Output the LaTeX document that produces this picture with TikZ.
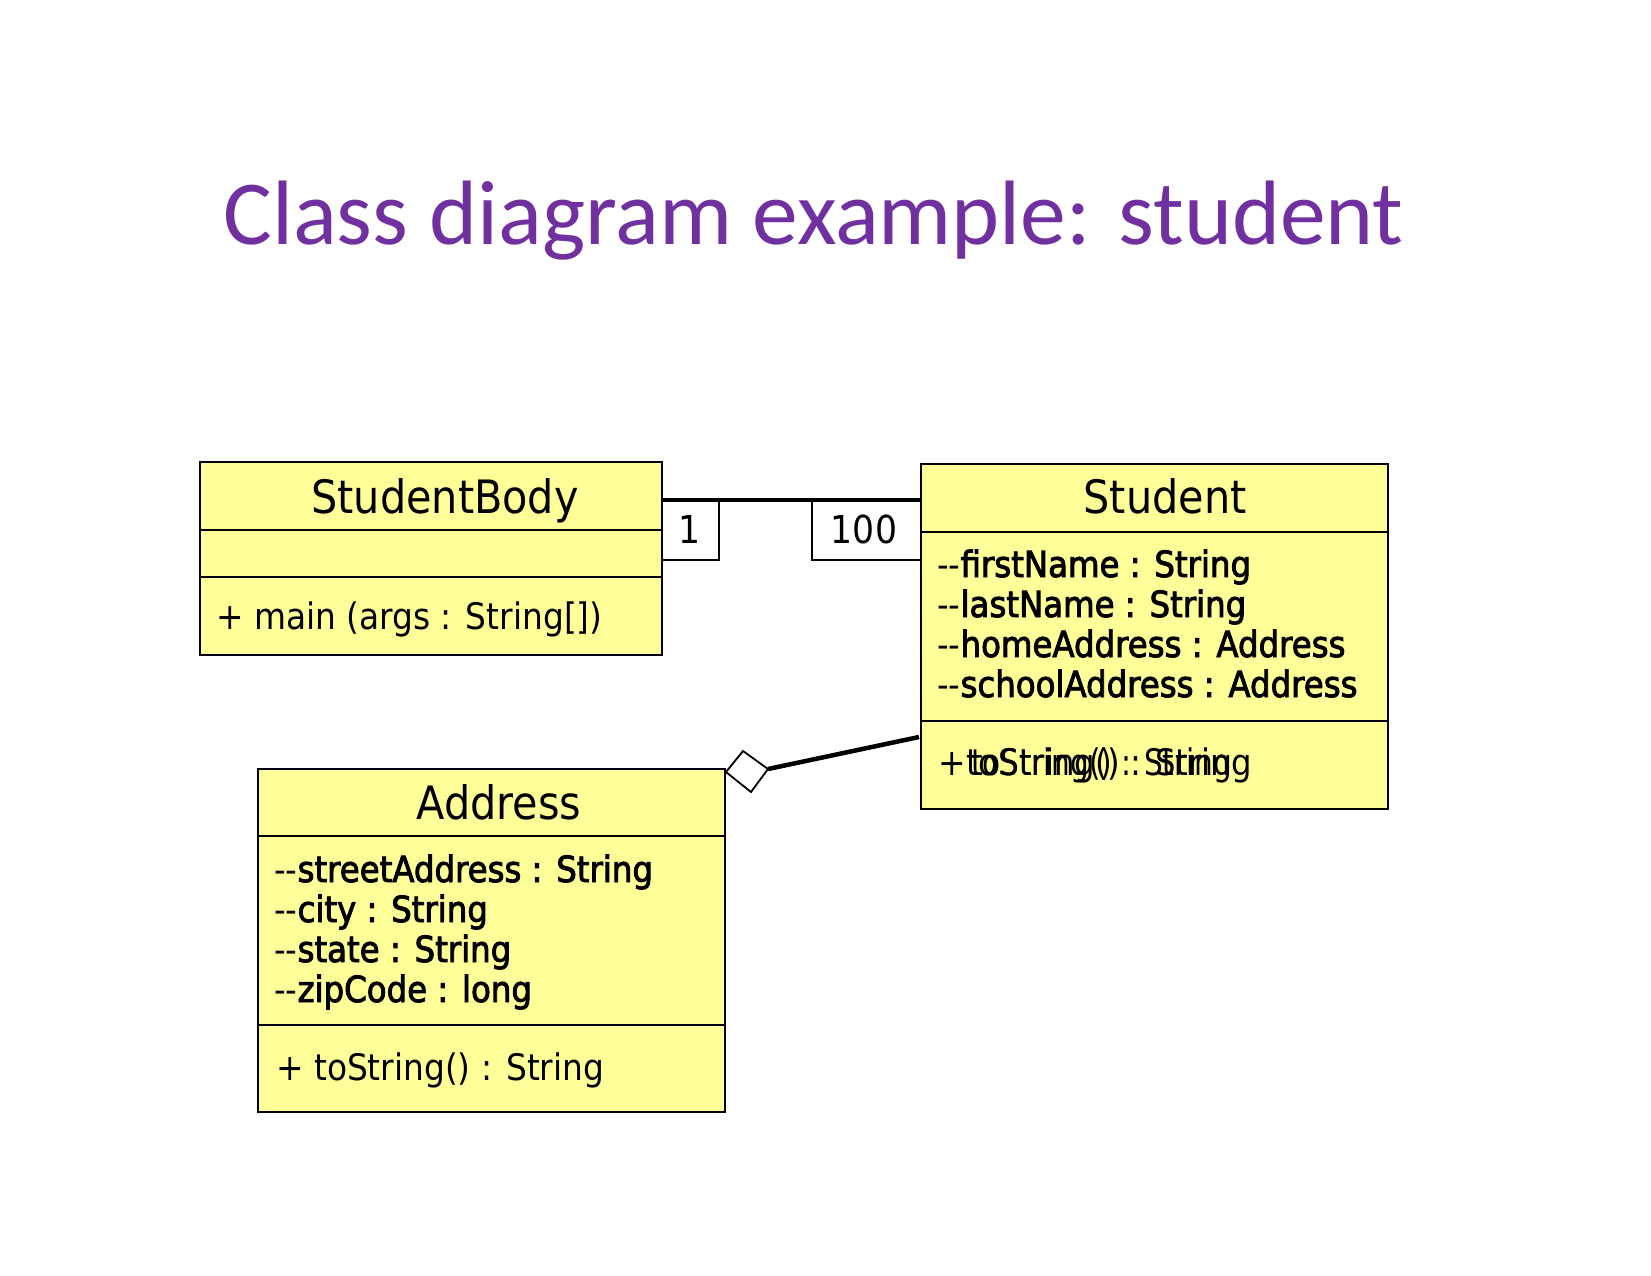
\documentclass[tikz,border=0pt]{standalone}
\usepackage{fontspec}
\setmainfont{DejaVu Sans}
\newfontfamily\umlfont[FakeStretch=0.9]{DejaVu Sans}
\newfontfamily\attrfont[FakeStretch=0.9,FakeBold=2.5]{DejaVu Sans}
\newfontfamily\titlefont{Carlito}
\definecolor{titlepurple}{RGB}{112,48,160}
\definecolor{umlyellow}{RGB}{255,255,153}
\newcommand{\hy}{{\umlfont -{}-}}
\begin{document}
\begin{tikzpicture}[x=1pt,y=-1pt,
  classbox/.style={draw=black, fill=umlyellow, line width=1.8pt, inner sep=0pt, outer sep=0pt, anchor=north west},
  hdr/.style={font=\umlfont\fontsize{46}{50}\selectfont, inner sep=0pt, anchor=base},
  attr/.style={font=\attrfont\fontsize{36}{40}\selectfont, inner sep=0pt, anchor=base west},
  meth/.style={font=\umlfont\fontsize{36.5}{40}\selectfont, inner sep=0pt, anchor=base west},
  divider/.style={line width=1.8pt},
  mult/.style={draw=black, fill=white, line width=1.6pt, inner sep=0pt, outer sep=0pt, anchor=north west},
  multtext/.style={font=\umlfont\fontsize{38.5}{40}\selectfont, inner sep=0pt, anchor=base},
  assoc/.style={line width=4.5pt},
  titletext/.style={font=\titlefont\fontsize{91.5}{100}\selectfont, text=titlepurple, inner sep=0pt, anchor=base}
]
\useasboundingbox (0,0) rectangle (1651,1275);
\fill[white] (0,0) rectangle (1651,1275);

% title
\node[titletext] (title) at (813.5,244) {Class diagram example: student};

% StudentBody
\node[classbox, minimum width=462pt, minimum height=193pt] (sb) at (200,462) {};
\draw[divider] (sb.north west |- 0,530) -- (sb.north east |- 0,530);
\draw[divider] (sb.north west |- 0,577) -- (sb.north east |- 0,577);
\node[hdr] (sbname) at (445,513) {StudentBody};
\node[meth] (sbm) at (216,629) {+ main (args : String[])};

% Student
\node[classbox, minimum width=467pt, minimum height=345pt] (st) at (921,464) {};
\draw[divider] (st.north west |- 0,532) -- (st.north east |- 0,532);
\draw[divider] (st.north west |- 0,721) -- (st.north east |- 0,721);
\node[hdr] (stname) at (1165,513) {Student};
\node[attr] (sta1) at (937,577) {\hy firstName : String};
\node[attr] (sta2) at (937,617) {\hy lastName : String};
\node[attr] (sta3) at (937,657) {\hy homeAddress : Address};
\node[attr] (sta4) at (937,697) {\hy schoolAddress : Address};
\node[meth] (stplus) at (938,775) {+};
\node[meth] (stm1) at (966,775) {\scalebox{0.985}[1]{toString() : String}};
\node[meth] (stm2) at (971,775) {\scalebox{0.9}[1]{toString() : String}};

% Address
\node[classbox, minimum width=467pt, minimum height=343pt] (ad) at (258,769) {};
\draw[divider] (ad.north west |- 0,836) -- (ad.north east |- 0,836);
\draw[divider] (ad.north west |- 0,1025) -- (ad.north east |- 0,1025);
\node[hdr] (adname) at (499,819) {Address};
\node[attr] (ada1) at (274,882) {\hy streetAddress : String};
\node[attr] (ada2) at (274,922) {\hy city : String};
\node[attr] (ada3) at (274,962) {\hy state : String};
\node[attr] (ada4) at (274,1002) {\hy zipCode : long};
\node[meth] (adm) at (276,1080) {+ toString() : String};

% association StudentBody -- Student with multiplicities
\node[mult, minimum width=57pt, minimum height=59pt] (m1) at (662,501) {};
\node[mult, minimum width=109pt, minimum height=59pt] (m2) at (812,501) {};
\node[multtext] (m1t) at (690,543) {1};
\node[multtext] (m2t) at (864,543) {100};
\draw[assoc] (sb.east |- 0,500) -- (st.west |- 0,500);

% aggregation Student -- Address
\coordinate (dl) at (726,772);
\coordinate (dt) at (743,751);
\coordinate (dr) at (768,769);
\coordinate (db) at (751,792);
\coordinate (aggend) at (919,737);
\draw[assoc] (dr) -- (aggend);
\draw[fill=white, line width=1.8pt, line join=miter] (dl) -- (dt) -- (dr) -- (db) -- cycle;
\end{tikzpicture}
\end{document}
